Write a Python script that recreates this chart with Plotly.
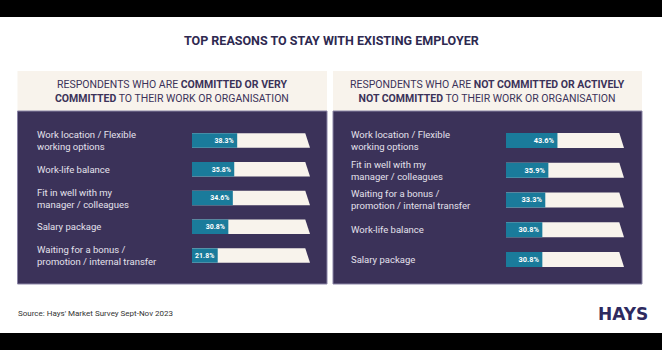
import plotly.graph_objects as go

W, H = 662, 350

# ---------------- data ----------------
title_text = "TOP REASONS TO STAY WITH EXISTING EMPLOYER"
left_header = "RESPONDENTS WHO ARE <b>COMMITTED OR VERY</b><br><b>COMMITTED</b> TO THEIR WORK OR ORGANISATION"
right_header = "RESPONDENTS WHO ARE <b>NOT COMMITTED OR ACTIVELY</b><br><b>NOT COMMITTED</b> TO THEIR WORK OR ORGANISATION"

left_cats = [
    "Work location / Flexible<br>working options",
    "Work-life balance",
    "Fit in well with my<br>manager / colleagues",
    "Salary package",
    "Waiting for a bonus /<br>promotion / internal transfer",
]
left_vals = [38.3, 35.8, 34.6, 30.8, 21.8]

right_cats = [
    "Work location / Flexible<br>working options",
    "Fit in well with my<br>manager / colleagues",
    "Waiting for a bonus /<br>promotion / internal transfer",
    "Work-life balance",
    "Salary package",
]
right_vals = [43.6, 35.9, 33.3, 30.8, 30.8]

source_text = "Source: Hays' Market Survey Sept-Nov 2023"
track_max = 100

# ---------------- styles ----------------
PURPLE = "#3b3259"
BEIGE = "#f8f3ec"
TEAL = "#1a7b9b"
TITLE_C = "#2e2950"
LABEL_C = "#e4e1ec"
FONT = "Roboto, sans-serif"


def px(x):
    return x / W


def py(y):
    return 1 - y / H


fig = go.Figure()
shapes = []


def rect(x0, y0, x1, y1, color, line=None):
    shapes.append(dict(type="rect", xref="paper", yref="paper", x0=px(x0), x1=px(x1),
                       y0=py(y1), y1=py(y0), fillcolor=color, layer="below",
                       line=dict(width=0) if line is None else line))


rect(0, 0, 662, 17, "black")
rect(0, 333, 662, 350, "black")
for x0, x1 in [(17.5, 327), (333, 642)]:
    rect(x0, 71, x1, 111, BEIGE)
    rect(x0, 111, x1, 284, PURPLE, line=dict(width=1, color="#8a84a6"))

for k, (cats, vals) in enumerate([(left_cats, left_vals), (right_cats, right_vals)]):
    xa = "x" if k == 0 else "x2"
    ya = "y" if k == 0 else "y2"
    # beige track with slanted right end, drawn in axis coordinates below the bars
    h = 0.25
    for i in range(len(vals)):
        shapes.append(dict(type="path", xref=xa, yref=ya, layer="below",
                           path=f"M 0 {i - h} L {track_max * 0.96} {i - h} "
                                f"L {track_max} {i + h} L 0 {i + h} Z",
                           fillcolor=BEIGE, line=dict(width=0)))
    fig.add_trace(go.Bar(x=vals, y=list(range(len(vals))), orientation="h",
                         width=0.5, marker=dict(color=TEAL, line=dict(width=0)),
                         texttemplate="<b>%{x:.1f}%</b>", textposition="inside",
                         insidetextanchor="end",
                         textfont=dict(color="white", size=7.5, family=FONT),
                         showlegend=False, xaxis=xa, yaxis=ya))

annotations = []


def ann(text, x, y, size, color, xanchor="center", yref="paper", align="center"):
    annotations.append(dict(text=text, x=x, y=y, xref="paper", yref=yref,
                            xanchor=xanchor, yanchor="middle", align=align,
                            showarrow=False,
                            font=dict(size=size, color=color, family=FONT)))


ann("<b>" + title_text + "</b>", px(331.5), py(40), 12.5, TITLE_C)
ann(left_header, px(172), py(91.5), 10.5, PURPLE)
ann(right_header, px(487.5), py(91.5), 10.5, PURPLE)
for i, c in enumerate(left_cats):
    ann(c, px(35), i, 9.5, LABEL_C, xanchor="left", yref="y", align="left")
for i, c in enumerate(right_cats):
    ann(c, px(349), i, 9.5, LABEL_C, xanchor="left", yref="y2", align="left")
ann(source_text, px(16), py(313), 8, "#333333", xanchor="left")
annotations.append(dict(text="<b>HAYS</b>", x=px(650), xanchor="right", y=py(314),
                        yanchor="middle", xref="paper", yref="paper", showarrow=False,
                        font=dict(size=17, color="#2e2a5f", family="DejaVu Sans")))

ax_common = dict(visible=False, fixedrange=True)
fig.update_layout(
    width=W, height=H, margin=dict(l=0, r=0, t=0, b=0),
    paper_bgcolor="white", plot_bgcolor="rgba(0,0,0,0)",
    barmode="overlay", showlegend=False,
    xaxis=dict(domain=[px(192), px(310)], range=[0, track_max], **ax_common),
    yaxis=dict(domain=[py(269.9), py(126.1)], range=[4.5, -0.5], **ax_common),
    xaxis2=dict(domain=[px(506), px(624)], range=[0, track_max], anchor="y2", **ax_common),
    yaxis2=dict(domain=[py(274.4), py(125.6)], range=[4.5, -0.5], anchor="x2", **ax_common),
    annotations=annotations, shapes=shapes,
)

fig.write_html("out.html")
